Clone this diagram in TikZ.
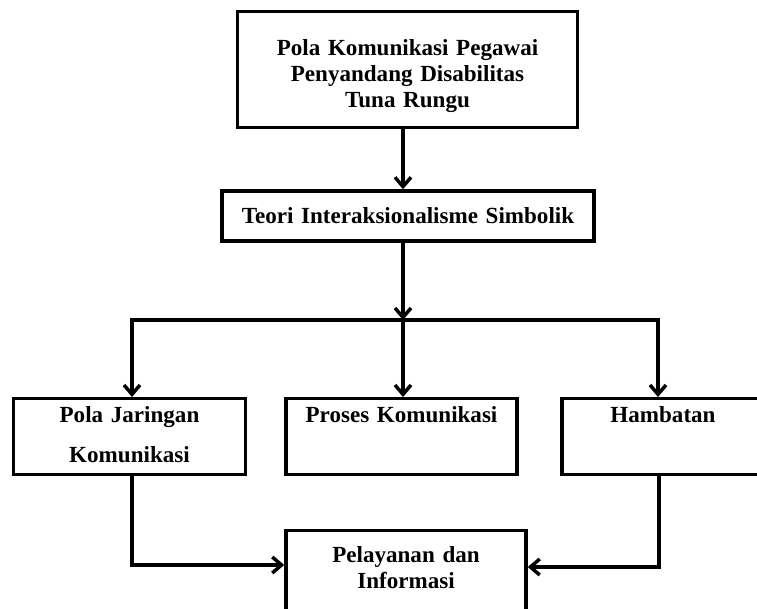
\documentclass[tikz,border=0pt]{standalone}
\usepackage{fontspec}
\setmainfont{Liberation Serif}
\usetikzlibrary{arrows.meta, positioning}

\begin{document}
\begin{tikzpicture}[
    x=0.75pt, y=-0.75pt,
    box/.style={
      rectangle,
      draw=black,
      line width=2.6pt,
      inner xsep=0pt,
      inner ysep=0pt,
      align=center,
      font=\fontsize{17.3}{19.5}\selectfont\bfseries
    },
    lowbox/.style={
      box,
      anchor=north,
      text height=18pt,
      text depth=39pt
    },
    arrow/.style={
      -{Straight Barb[length=7pt, width=12pt]},
      line width=2.6pt,
      black
    }
  ]

    \useasboundingbox (0,0) rectangle (757,609);
    \clip (0,0) rectangle (757,609);

    % Top
    \node[lowbox, text width=255pt, text height=32.6pt, text depth=54.4pt] (pola) at (407.5,10) {
      Pola Komunikasi Pegawai\\
      Penyandang Disabilitas\\
      Tuna Rungu
    };

    \node[box, text width=279pt, minimum height=37.5pt] (teori) at (408,216) {
      Teori Interaksionalisme Simbolik
    };

    % Row 2
    \node[lowbox, text width=174pt, font=\fontsize{17.3}{30}\selectfont\bfseries] (jaringan) at (129.5,397) {
      Pola Jaringan\\
      Komunikasi
    };

    \node[lowbox, text width=173pt] (proses) at (401.5,397) {
      Proses Komunikasi
    };

    \node[lowbox, text width=151.5pt] (hambatan) at (663,397) {
      Hambatan
    };

    % Bottom
    \node[lowbox, text width=180pt, text height=24pt, text depth=80pt] (pelayanan) at (406,529) {
      Pelayanan dan\\
      Informasi
    };

    % Connections
    \coordinate (jn) at (403,320);
    \coordinate (jl) at (132,320);
    \coordinate (jr) at (658,320);
    \coordinate (bl) at (132,565);
    \coordinate (br) at (659,567);

    \draw[arrow] (pola.south -| jn) -- (teori.north -| jn);
    \draw[arrow] (teori.south -| jn) -- (jn);
    \draw[line width=2.6pt, line cap=rect] (jl) -- (jr);
    \draw[arrow] (jl) -- (jl |- jaringan.north);
    \draw[arrow] (jn) -- (jn |- proses.north);
    \draw[arrow] (jr) -- (jr |- hambatan.north);
    \draw[arrow] (jaringan.south -| bl) |- (bl -| pelayanan.west);
    \draw[arrow] (hambatan.south -| br) |- (br -| pelayanan.east);

\end{tikzpicture}
\end{document}
